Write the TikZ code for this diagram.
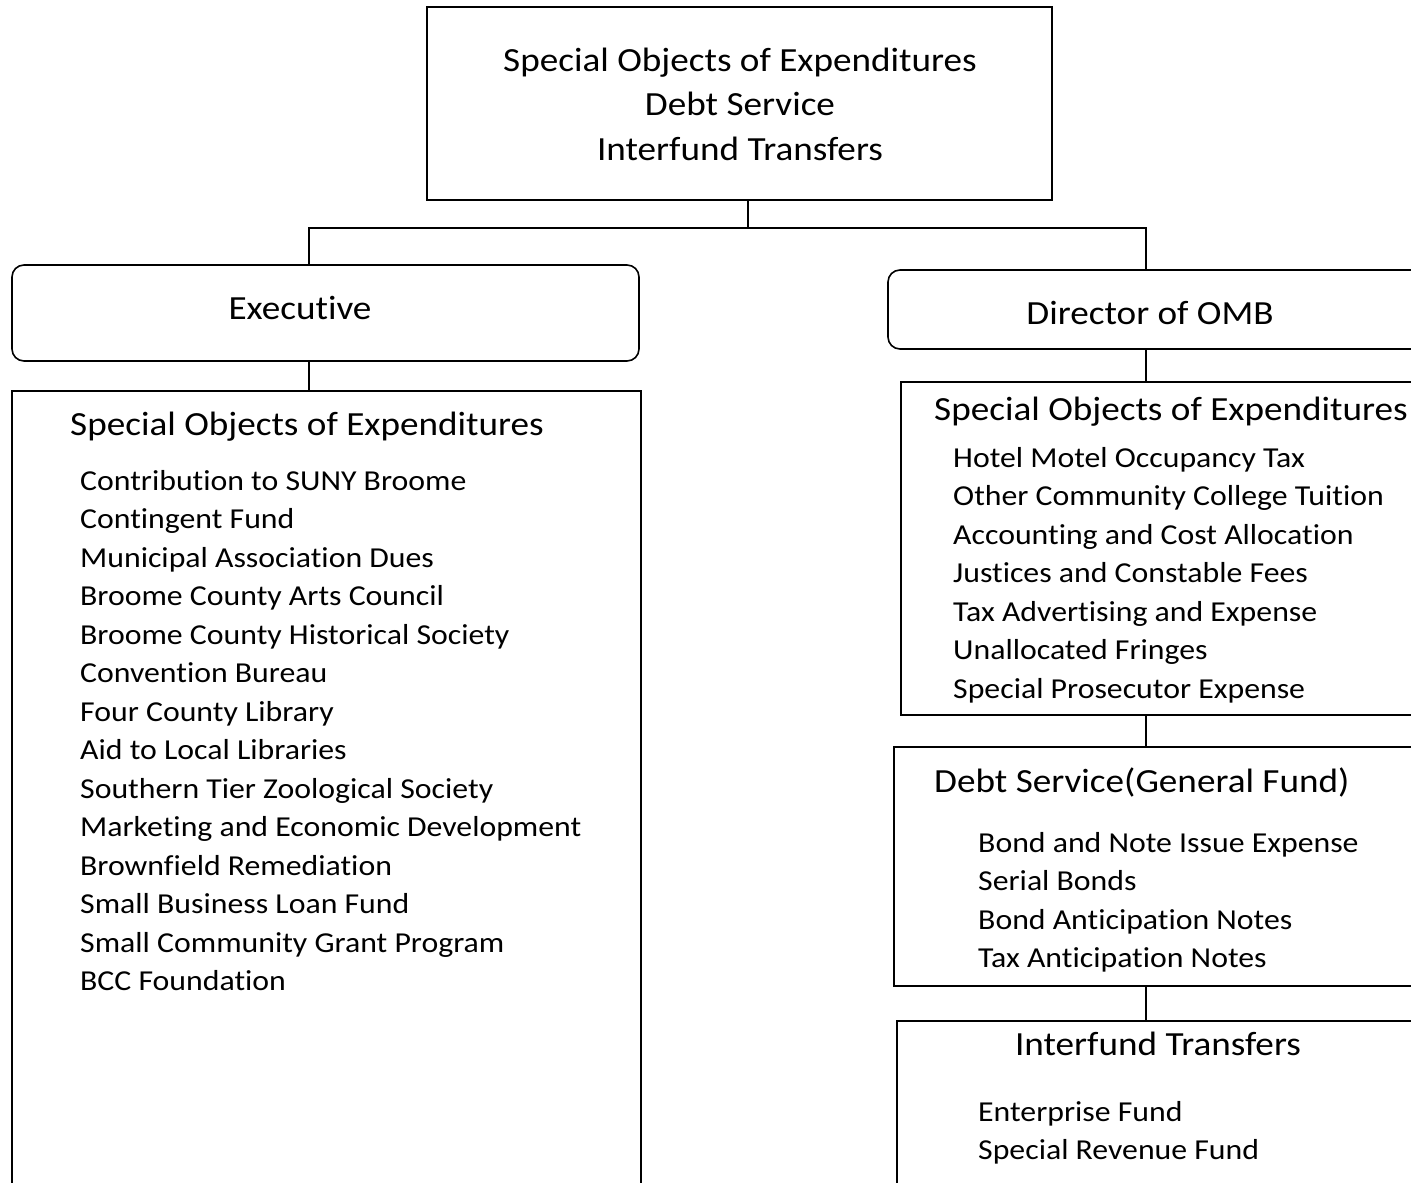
\documentclass[tikz,border=0pt]{standalone}
\usepackage{fontspec}
\setmainfont{Carlito}[FakeStretch=1.1,Ligatures=NoCommon]
\tikzset{
  box/.style={draw,line width=1.6pt,inner sep=0pt,outer sep=0pt,anchor=north west},
  roundbox/.style={box,rounded corners=12pt},
  headtext/.style={font=\fontsize{33.8}{44.5}\selectfont,inner sep=0pt},
  itemtext/.style={font=\fontsize{28.9}{38.5}\selectfont,inner sep=0pt,anchor=base west},
  link/.style={line width=1.4pt}
}

\begin{document}
\begin{tikzpicture}[x=1pt,y=-1pt]
  \useasboundingbox (0,0) rectangle (1411,1183);
  \clip (0,0) rectangle (1411,1183);
  % boxes
  \node[box,minimum width=625pt,minimum height=193pt] (top) at (427,7) {};
  \node[roundbox,minimum width=627pt,minimum height=96pt] (exec) at (12,265) {};
  \node[box,minimum width=629pt,minimum height=820pt] (execlist) at (12,391) {};
  \node[roundbox,minimum width=560pt,minimum height=79pt] (omb) at (888,270) {};
  \node[box,minimum width=540pt,minimum height=333pt] (special) at (901,382) {};
  \node[box,minimum width=550pt,minimum height=239pt] (debt) at (894,747) {};
  \node[box,minimum width=550pt,minimum height=190pt] (transfer) at (897,1021) {};
  % texts
  \node[headtext,anchor=base] (toptext) at (740,71)
    {\begin{tabular}[t]{@{}c@{}}Special Objects of Expenditures\\Debt Service\\Interfund Transfers\end{tabular}};
  \node[headtext,anchor=base] (exectext) at (300,319) {Executive};
  \node[headtext,anchor=base] (ombtext) at (1150,324) {Director of OMB};
  \node[headtext,anchor=base west] (exechead) at (70,435) {Special Objects of Expenditures};
  \node[itemtext] (execitems) at (80,490)
    {\begin{tabular}[t]{@{}l@{}}
      Contribution to SUNY Broome\\
      Contingent Fund\\
      Municipal Association Dues\\
      Broome County Arts Council\\
      Broome County Historical Society\\
      Convention Bureau\\
      Four County Library\\
      Aid to Local Libraries\\
      Southern Tier Zoological Society\\
      Marketing and Economic Development\\
      Brownfield Remediation\\
      Small Business Loan Fund\\
      Small Community Grant Program\\
      BCC Foundation
    \end{tabular}};
  \node[headtext,anchor=base west] (specialhead) at (934,420) {Special Objects of Expenditures};
  \node[itemtext] (specialitems) at (953,467)
    {\begin{tabular}[t]{@{}l@{}}
      Hotel Motel Occupancy Tax\\
      Other Community College Tuition\\
      Accounting and Cost Allocation\\
      Justices and Constable Fees\\
      Tax Advertising and Expense\\
      Unallocated Fringes\\
      Special Prosecutor Expense
    \end{tabular}};
  \node[headtext,anchor=base west] (debthead) at (934,792) {Debt Service(General Fund)};
  \node[itemtext] (debtitems) at (978,852)
    {\begin{tabular}[t]{@{}l@{}}
      Bond and Note Issue Expense\\
      Serial Bonds\\
      Bond Anticipation Notes\\
      Tax Anticipation Notes
    \end{tabular}};
  \node[headtext,anchor=base] (transferhead) at (1158,1055) {Interfund Transfers};
  \node[itemtext] (transferitems) at (978,1121)
    {\begin{tabular}[t]{@{}l@{}}
      Enterprise Fund\\
      Special Revenue Fund
    \end{tabular}};
  % connectors
  \coordinate (split) at (748,228);
  \coordinate (lx) at (309,0);
  \coordinate (rx) at (1146,0);
  \draw[link] (top.south -| split) -- (split);
  \draw[link] (exec.north -| lx) |- (split) -| (omb.north -| rx);
  \draw[link] (exec.south -| lx) -- (execlist.north -| lx);
  \draw[link] (omb.south -| rx) -- (special.north -| rx);
  \draw[link] (special.south -| rx) -- (debt.north -| rx);
  \draw[link] (debt.south -| rx) -- (transfer.north -| rx);
\end{tikzpicture}
\end{document}
